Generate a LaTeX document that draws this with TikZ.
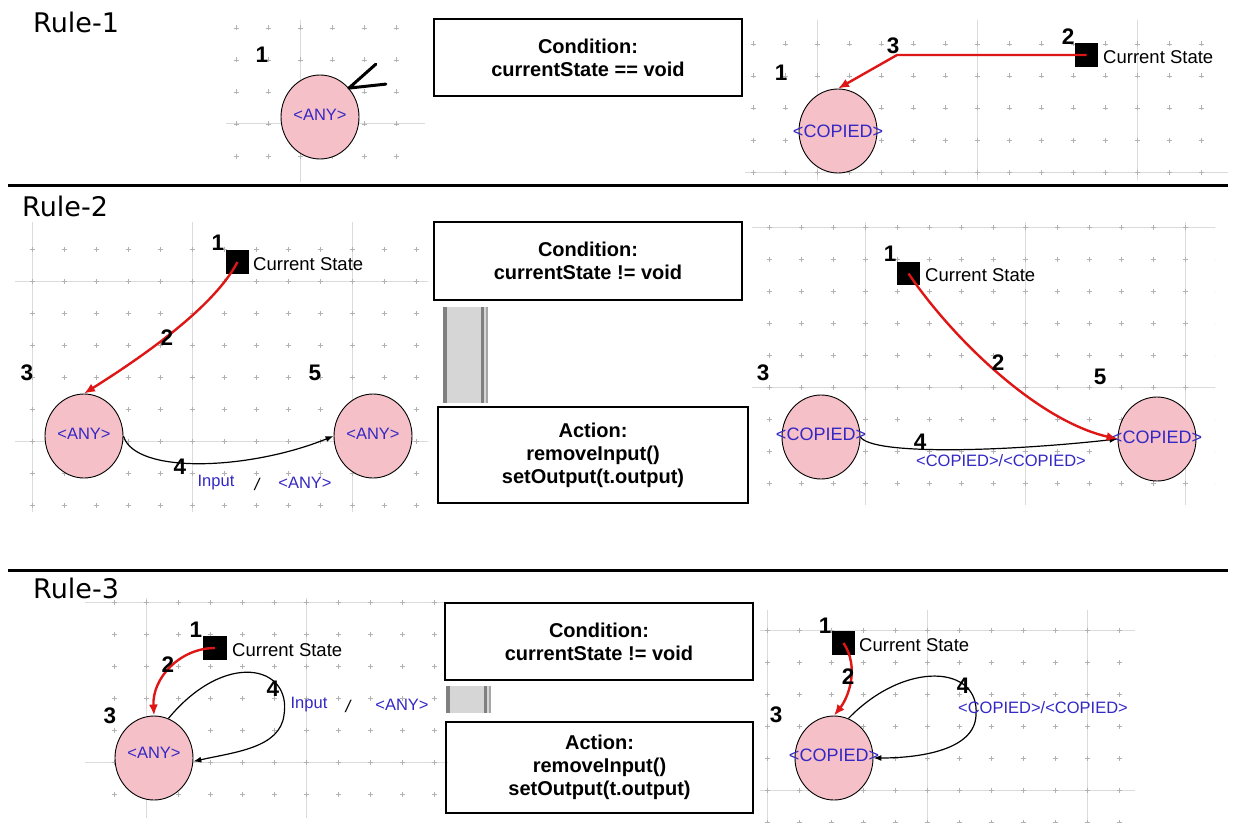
\documentclass[tikz,border=0pt]{standalone}
\usepackage{fontspec}
\setmainfont{Liberation Sans}
\newfontfamily\headfont{DejaVu Sans}
\usetikzlibrary{shapes.geometric,arrows.meta,calc}

\definecolor{statepink}{RGB}{246,192,200}
\definecolor{labelblue}{RGB}{52,40,196}
\definecolor{arrowred}{RGB}{222,22,22}

\tikzset{
  gridmark/.style={draw=black!30, line width=0.7pt},
  gridline/.style={draw=black!14, line width=1pt},
  stnode/.style={ellipse, draw=black, line width=0.9pt, fill=statepink,
    minimum width=78pt, minimum height=84pt, inner sep=0pt},
  csbox/.style={fill=black, minimum size=23.5pt, inner sep=0pt},
  num/.style={font=\fontsize{22.5}{22.5}\selectfont\bfseries, inner sep=0pt},
  cslabel/.style={anchor=west, font=\fontsize{18.5}{20}\selectfont, inner sep=0pt},
  lbl/.style={text=labelblue, font=\fontsize{16.5}{17}\selectfont, inner sep=0pt},
  slash/.style={font=\fontsize{17}{17}\selectfont\itshape, inner sep=0pt},
  rulebox/.style={draw=black, line width=1.6pt, align=center,
    font=\fontsize{20}{23}\selectfont\bfseries, inner sep=0pt},
  rulehead/.style={anchor=west, font=\headfont\fontsize{27}{30}\selectfont, inner sep=0pt},
  redarrow/.style={draw=arrowred, line width=2.4pt, -{Latex[length=11pt,width=9pt]}},
  trans/.style={draw=black, line width=1.2pt, -{Latex[length=8pt,width=6pt]}},
  separator/.style={draw=black, line width=3pt},
  barfill/.style={fill=black!16},
  baredge/.style={fill=black!50},
}

% dotted editor grid: minor marks every 32, major lines every 160
\newcommand{\gridpanel}[6]{%
  \begin{scope}
    \clip (#1,#2) rectangle (#3,#4);
    \pgfmathtruncatemacro{\gia}{floor((#1-#5)/32)}
    \pgfmathtruncatemacro{\gib}{ceil((#3-#5)/32)}
    \pgfmathtruncatemacro{\gja}{floor((#2-#6)/32)}
    \pgfmathtruncatemacro{\gjb}{ceil((#4-#6)/32)}
    \pgfmathtruncatemacro{\gka}{floor((#1-#5)/160)}
    \pgfmathtruncatemacro{\gkb}{ceil((#3-#5)/160)}
    \pgfmathtruncatemacro{\gla}{floor((#2-#6)/160)}
    \pgfmathtruncatemacro{\glb}{ceil((#4-#6)/160)}
    \foreach \k in {\gka,...,\gkb}{
      \draw[gridline] ({#5+160*\k},#2) -- ({#5+160*\k},#4);}
    \foreach \l in {\gla,...,\glb}{
      \draw[gridline] (#1,{#6+160*\l}) -- (#3,{#6+160*\l});}
    \foreach \i in {\gia,...,\gib}{
      \foreach \j in {\gja,...,\gjb}{
        \draw[gridmark] ({#5+32*\i-2.5},{#6+32*\j}) -- ++(5,0)
                        ({#5+32*\i},{#6+32*\j-2.5}) -- ++(0,5);}}
  \end{scope}}

% textured separator bar between condition and action
\newcommand{\graybar}[4]{%
  \fill[barfill] (#1,#2) rectangle (#3,#4);
  \fill[baredge] (#1,#2) rectangle ({#1+4},#4);
  \fill[baredge] ({#3-7},#2) rectangle ({#3-4},#4);
  \fill[black!35] ({#3-2.5},#2) rectangle (#3,#4);}

\begin{document}
\begin{tikzpicture}[x=1pt,y=-1pt]
\useasboundingbox[fill=white] (0,0) rectangle (1241,824);

% ---------- grids ----------
\gridpanel{226}{20}{425}{182}{300}{124}
\gridpanel{745}{20}{1228}{180}{817}{172}
\gridpanel{15}{222}{428}{512}{32}{281}
\gridpanel{752}{222}{1215}{505}{865}{227}
\gridpanel{85}{598}{448}{818}{146}{602}
\gridpanel{760}{610}{1135}{822}{927}{630}

% ---------- separators and headings ----------
\coordinate (sepA) at (8,185);
\coordinate (sepB) at (8,570);
\draw[separator] (sepA) -- ++(1220,0);
\draw[separator] (sepB) -- ++(1220,0);
\node[rulehead] (h1) at (33,22) {Rule-1};
\node[rulehead] (h2) at (22,206) {Rule-2};
\node[rulehead] (h3) at (33,588) {Rule-3};

% ---------- Rule-1 ----------
\node[rulebox, minimum width=308pt, minimum height=77pt] (cond1) at (588,57.5)
  {Condition:\\currentState == void};

\node[stnode] (r1l) at (320,117) {};
\node[lbl] (r1lt) at (320,115) {<ANY>};
\node[num] (r1n1) at (262,55) {1};
\coordinate (r1tip) at (r1l.45);
\draw[line width=3pt, line cap=round, line join=round]
  ($(r1tip)+(27,-24)$) -- (r1tip) -- ++(37,-4);

\node[stnode] (r1r) at (838,131) {};
\node[lbl, font=\fontsize{18}{18}\selectfont] (r1rt) at (838,131) {<COPIED>};
\node[csbox] (r1sq) at (1086.5,55) {};
\node[cslabel] (r1cs) at (1103,57) {Current State};
\coordinate (r1bend) at (897,55);
\draw[redarrow] (r1sq.center) -- (r1bend) -- (r1r.north);
\node[num] (r1n1b) at (781,73) {1};
\node[num] (r1n2) at (1068,37) {2};
\node[num] (r1n3) at (893,46) {3};

% ---------- Rule-2 ----------
\node[rulebox, minimum width=308pt, minimum height=78pt] (cond2) at (588,261)
  {Condition:\\currentState != void};
\graybar{443}{307}{488}{403}
\node[rulebox, minimum width=310pt, minimum height=96pt] (act2) at (593,455)
  {Action:\\removeInput()\\setOutput(t.output)};

% left side
\node[stnode] (r2a) at (84,436) {};
\node[stnode] (r2b) at (373,436) {};
\node[lbl] (r2at) at (84,434) {<ANY>};
\node[lbl] (r2bt) at (373,434) {<ANY>};
\node[csbox] (r2sq) at (237.5,262) {};
\node[cslabel] (r2cs) at (253,264) {Current State};
\draw[redarrow] (r2sq.center) .. controls (215,305) and (150,352) .. (r2a.north);
\draw[trans] (r2a.east) .. controls (135,475) and (250,470) .. (r2b.west);
\node[num] (r2n1) at (218,243) {1};
\node[num] (r2n2) at (167,338) {2};
\node[num] (r2n3) at (27,373) {3};
\node[num] (r2n4) at (180,467) {4};
\node[num] (r2n5) at (315,373) {5};
\node[lbl] (r2in) at (216,483) {Input};
\node[slash] (r2sl) at (257,484) {/};
\node[lbl] (r2out) at (305,483) {<ANY>};

% right side
\node[stnode] (r2c) at (821,437) {};
\node[stnode] (r2d) at (1157,439) {};
\node[lbl, font=\fontsize{18}{18}\selectfont] (r2ct) at (821,434) {<COPIED>};
\node[lbl, font=\fontsize{18}{18}\selectfont] (r2dt) at (1157,437) {<COPIED>};
\node[csbox] (r2sq2) at (908.5,273.5) {};
\node[cslabel] (r2cs2) at (925,275) {Current State};
\draw[trans] (r2c.east) .. controls (872,455) and (1000,452) .. (r2d.west);
\draw[redarrow] (r2sq2.center) .. controls (950,335) and (1035,420) .. (r2d.west);
\node[num] (r2n1b) at (890,254) {1};
\node[num] (r2n2b) at (998,363) {2};
\node[num] (r2n3b) at (763,373) {3};
\node[num] (r2n4b) at (920,442) {4};
\node[num] (r2n5b) at (1100,377) {5};
\node[lbl] (r2io) at (1001,461) {<COPIED>/<COPIED>};

% ---------- Rule-3 ----------
\node[rulebox, minimum width=308pt, minimum height=77pt] (cond3) at (599,641.5)
  {Condition:\\currentState != void};
\graybar{446}{686}{491}{713}
\node[rulebox, minimum width=307pt, minimum height=91pt] (act3) at (599.5,767.5)
  {Action:\\removeInput()\\setOutput(t.output)};

% left side
\node[stnode] (r3a) at (154,758) {};
\node[lbl] (r3at) at (154,753) {<ANY>};
\node[csbox] (r3sq) at (215,648) {};
\node[cslabel] (r3cs) at (232,650) {Current State};
\draw[trans] (r3a.70) .. controls (225,650) and (292,665) .. (284,715)
  .. controls (280,748) and (235,752) .. (r3a.-5);
\draw[redarrow] (r3sq.center) .. controls (180,648) and (152,678) .. (r3a.north);
\node[num] (r3n1) at (196,630) {1};
\node[num] (r3n2) at (168,665) {2};
\node[num] (r3n3) at (110,716) {3};
\node[num] (r3n4) at (273,689) {4};
\node[lbl] (r3in) at (309,705) {Input};
\node[slash] (r3sl) at (348,706) {/};
\node[lbl] (r3out) at (402,705) {<ANY>};

% right side
\node[stnode] (r3b) at (834,758) {};
\node[lbl, font=\fontsize{18}{18}\selectfont] (r3bt) at (834,755) {<COPIED>};
\node[csbox] (r3sq2) at (843.5,643) {};
\node[cslabel] (r3cs2) at (859,645) {Current State};
\draw[trans] (r3b.70) .. controls (905,660) and (980,665) .. (976,715)
  .. controls (975,750) and (920,758) .. (r3b.east);
\draw[redarrow] (r3sq2.center) .. controls (860,668) and (848,698) .. (r3b.north);
\node[num] (r3n1b) at (825,626) {1};
\node[num] (r3n2b) at (848,677) {2};
\node[num] (r3n3b) at (776,715) {3};
\node[num] (r3n4b) at (963,686) {4};
\node[lbl] (r3io) at (1043,708) {<COPIED>/<COPIED>};

\end{tikzpicture}
\end{document}
